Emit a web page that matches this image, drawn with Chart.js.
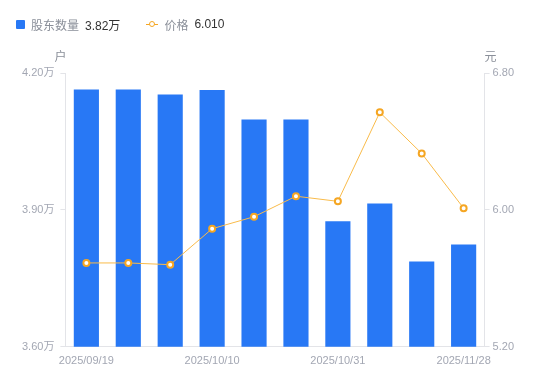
<!DOCTYPE html>
<html>
<head>
<meta charset="utf-8">
<script src="https://cdn.jsdelivr.net/npm/chart.js@4.4.0/dist/chart.umd.min.js"></script>
<style>
  html, body { margin: 0; padding: 0; background: #fff; }
  #wrap { position: relative; width: 550px; height: 381px; }
  #legend {
    position: absolute; left: 16px; top: 14px; height: 20px;
    font-family: "Liberation Sans", "Noto Sans CJK SC", sans-serif;
    font-size: 12px; display: flex; align-items: center;
  }
  .name { color: #8a8f99; margin-right: 6px; }
  .val { color: #333; margin-right: 26px; }
  .sq { width: 9px; height: 9px; background: #2878f5; border-radius: 1px; margin-right: 6px; }
  .ln { position: relative; width: 12px; height: 9px; margin-right: 6px; }
  .ln:before { content: ""; position: absolute; left: 0; right: 0; top: 4px; height: 1px; background: #f5a623; }
  .ln:after { content: ""; position: absolute; left: 3px; top: 1px; width: 4px; height: 4px; border: 1.5px solid #f5a623; border-radius: 50%; background: #fff; }
</style>
</head>
<body>
<div id="wrap">
  <div id="legend">
    <div class="sq"></div><span class="name">股东数量</span><span class="val">3.82万</span>
    <div class="ln"></div><span class="name">价格</span><span class="val">6.010</span>
  </div>
  <canvas id="myChart" width="550" height="381"></canvas>
</div>
<script>
const dates = ['2025/09/19', '2025/09/26', '2025/09/30', '2025/10/10', '2025/10/17',
               '2025/10/24', '2025/10/31', '2025/11/10', '2025/11/20', '2025/11/28'];
// 股东数量, 万户
const holders = [4.164, 4.164, 4.153, 4.163, 4.098, 4.098, 3.875, 3.914, 3.787, 3.824];
// 价格, 元
const prices = [5.69, 5.69, 5.68, 5.89, 5.96, 6.08, 6.05, 6.57, 6.33, 6.01];

const leftTicks = [3.6, 3.9, 4.2];
const rightTicks = [5.2, 6.0, 6.8];

const tickColor = '#a3a7b3';
const axisColor = '#e3e4e8';
const fontFamily = '"Liberation Sans", "Noto Sans CJK SC", sans-serif';

// unit labels above both y axes
const unitTitles = {
  id: 'unitTitles',
  afterDraw(chart) {
    const ctx = chart.ctx;
    const area = chart.chartArea;
    ctx.save();
    ctx.font = '12px ' + fontFamily;
    ctx.fillStyle = '#8a8f99';
    ctx.textBaseline = 'middle';
    ctx.textAlign = 'center';
    ctx.fillText('户', area.left - 5, area.top - 15);
    ctx.fillText('元', area.right + 6, area.top - 15);
    ctx.restore();
  }
};

function createChart() {
  const ctx = document.getElementById('myChart').getContext('2d');
  return new Chart(ctx, {
    data: {
      labels: dates,
      datasets: [{
        type: 'line',
        label: '价格',
        data: prices,
        yAxisID: 'y1',
        borderColor: '#f9bb4a',
        borderWidth: 1,
        pointRadius: 3,
        pointBorderWidth: 2,
        pointBackgroundColor: '#fff',
        pointBorderColor: '#f5a623',
        tension: 0,
        order: 0
      }, {
        type: 'bar',
        label: '股东数量',
        data: holders,
        yAxisID: 'y',
        backgroundColor: '#2878f5',
        categoryPercentage: 0.6,
        barPercentage: 1,
        order: 1
      }]
    },
    options: {
      responsive: false,
      animation: false,
      layout: { padding: { top: 73, left: 16, right: 33, bottom: 13 } },
      plugins: { legend: { display: false }, tooltip: { enabled: false } },
      scales: {
        x: {
          grid: { display: false },
          border: { display: true, color: axisColor },
          ticks: {
            autoSkip: false,
            maxRotation: 0,
            color: tickColor,
            font: { size: 11, family: fontFamily },
            padding: 0,
            callback: (v, i) => (i % 3 === 0 ? dates[i] : '')
          }
        },
        y: {
          position: 'left',
          min: 3.6,
          max: 4.2,
          afterBuildTicks: s => { s.ticks = leftTicks.map(v => ({ value: v })); },
          grid: { drawOnChartArea: false, color: axisColor, tickLength: 5 },
          border: { display: true, color: axisColor },
          ticks: {
            color: tickColor,
            font: { size: 11, family: fontFamily },
            padding: 6,
            callback: v => v.toFixed(2) + '万'
          }
        },
        y1: {
          position: 'right',
          min: 5.2,
          max: 6.8,
          afterBuildTicks: s => { s.ticks = rightTicks.map(v => ({ value: v })); },
          grid: { drawOnChartArea: false, color: axisColor, tickLength: 5 },
          border: { display: true, color: axisColor },
          ticks: {
            color: tickColor,
            font: { size: 11, family: fontFamily },
            padding: 3,
            callback: v => v.toFixed(2)
          }
        }
      }
    },
    plugins: [unitTitles]
  });
}

const myChart = createChart();
</script>
</body>
</html>
